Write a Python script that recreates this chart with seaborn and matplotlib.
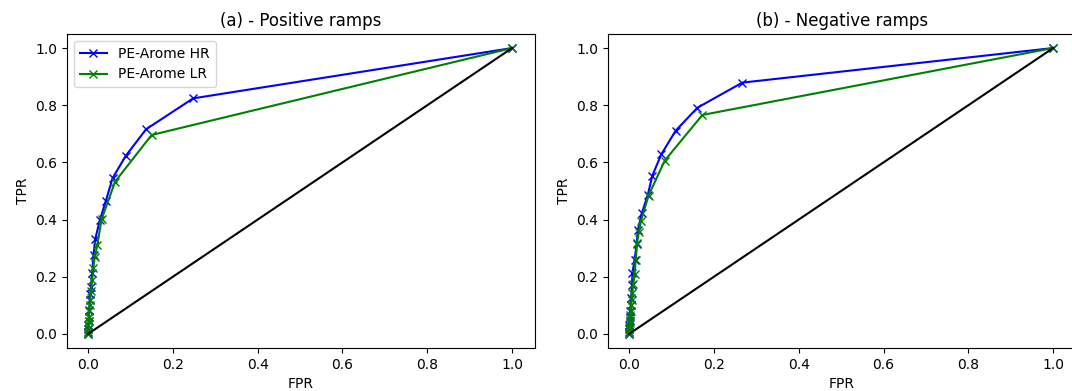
import numpy as np
import pandas as pd
import matplotlib
matplotlib.use("Agg")
import matplotlib.pyplot as plt
import seaborn as sns

# ---- data ----
titles = ["(a) - Positive ramps", "(b) - Negative ramps"]
series_names = ["PE-Arome HR", "PE-Arome LR"]

pos_hr_fpr = [0.0, 0.0003, 0.0006, 0.001, 0.0015, 0.002, 0.003, 0.004, 0.005, 0.007, 0.010, 0.013, 0.017, 0.028, 0.042, 0.058, 0.089, 0.137, 0.248, 1.0]
pos_hr_tpr = [0.0, 0.008, 0.018, 0.030, 0.045, 0.060, 0.085, 0.119, 0.140, 0.165, 0.212, 0.276, 0.331, 0.399, 0.465, 0.545, 0.623, 0.716, 0.824, 1.0]

pos_lr_fpr = [0.0, 0.0003, 0.0006, 0.001, 0.0015, 0.002, 0.003, 0.004, 0.005, 0.007, 0.010, 0.0125, 0.016, 0.022, 0.032, 0.064, 0.150, 1.0]
pos_lr_tpr = [0.0, 0.008, 0.018, 0.030, 0.045, 0.060, 0.080, 0.100, 0.120, 0.150, 0.190, 0.230, 0.270, 0.311, 0.401, 0.533, 0.696, 1.0]

neg_hr_fpr = [0.0, 0.0003, 0.0006, 0.001, 0.0015, 0.002, 0.003, 0.004, 0.005, 0.007, 0.008, 0.013, 0.018, 0.021, 0.030, 0.044, 0.055, 0.076, 0.110, 0.161, 0.267, 1.0]
neg_hr_tpr = [0.0, 0.008, 0.018, 0.030, 0.045, 0.060, 0.080, 0.100, 0.125, 0.170, 0.212, 0.259, 0.314, 0.364, 0.422, 0.485, 0.554, 0.628, 0.711, 0.791, 0.879, 1.0]

neg_lr_fpr = [0.0, 0.0003, 0.0006, 0.001, 0.0015, 0.002, 0.003, 0.004, 0.005, 0.006, 0.008, 0.010, 0.013, 0.016, 0.019, 0.023, 0.028, 0.046, 0.084, 0.173, 1.0]
neg_lr_tpr = [0.0, 0.008, 0.016, 0.026, 0.038, 0.050, 0.065, 0.080, 0.100, 0.120, 0.145, 0.175, 0.210, 0.260, 0.319, 0.355, 0.395, 0.484, 0.606, 0.766, 1.0]

diag_x = [0.0, 1.0]
diag_y = [0.0, 1.0]

colors = ["blue", "green"]

panels = [
    ((pos_hr_fpr, pos_hr_tpr), (pos_lr_fpr, pos_lr_tpr)),
    ((neg_hr_fpr, neg_hr_tpr), (neg_lr_fpr, neg_lr_tpr)),
]

fig = plt.figure(figsize=(10.72, 3.91), dpi=100)
axes = [
    fig.add_axes([0.0625, 0.110, 0.4366, 0.803]),
    fig.add_axes([0.5672, 0.110, 0.4366, 0.803]),
]

for i, (ax, series) in enumerate(zip(axes, panels)):
    for (xs, ys), name, col in zip(series, series_names, colors):
        sns.lineplot(x=xs, y=ys, color=col, marker="x", markersize=6,
                     markeredgewidth=1.0, markeredgecolor=col, linewidth=1.5,
                     estimator=None, sort=False, ax=ax,
                     label=name if i == 0 else None, legend=False)
    sns.lineplot(x=diag_x, y=diag_y, color="black", linewidth=1.5, ax=ax,
                 estimator=None, sort=False, legend=False)
    ax.set_title(titles[i], fontsize=12)
    ax.set_xlabel("FPR", fontsize=10)
    ax.set_ylabel("TPR", fontsize=10)
    ax.set_xticks([0.0, 0.2, 0.4, 0.6, 0.8, 1.0])
    ax.set_yticks([0.0, 0.2, 0.4, 0.6, 0.8, 1.0])
    ax.set_xlim(-0.0495, 1.054)
    ax.set_ylim(-0.049, 1.049)
    ax.tick_params(labelsize=10)
    if i == 0:
        ax.legend(loc="upper left", fontsize=10)

fig.savefig("out.png", dpi=100)
